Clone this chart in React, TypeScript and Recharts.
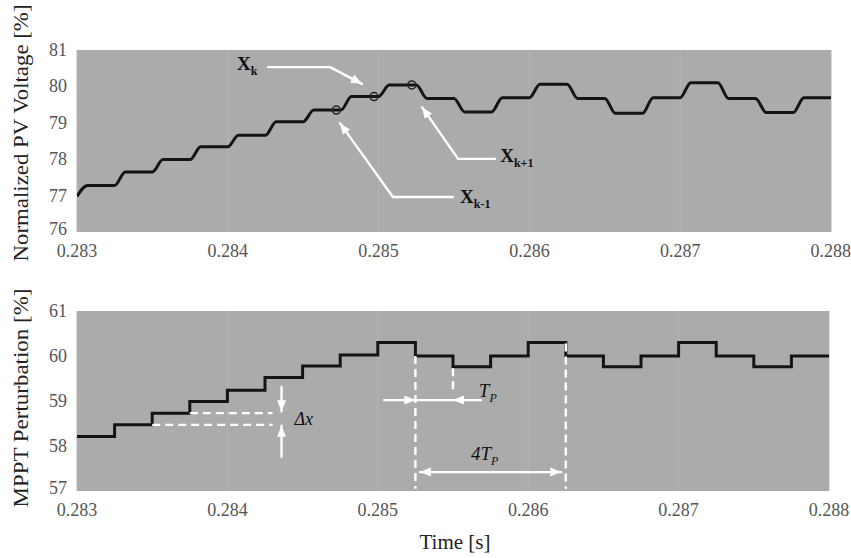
import React from "react";
import { ComposedChart, Line, XAxis, YAxis, CartesianGrid, ReferenceLine, ReferenceDot } from "recharts";

const xTicks = [0.283, 0.284, 0.285, 0.286, 0.287, 0.288];
const pvTicks = [76, 77, 78, 79, 80, 81];
const mpptTicks = [57, 58, 59, 60, 61];

// start of each perturbation period (T_P = 0.25 ms)
const periodStarts = [
  0.283, 0.28325, 0.2835, 0.28375, 0.284, 0.28425, 0.2845, 0.28475, 0.285, 0.28525,
  0.2855, 0.28575, 0.286, 0.28625, 0.2865, 0.28675, 0.287, 0.28725, 0.2875, 0.28775,
];
const tEnd = 0.288;

const mpptLevels = [
  58.21, 58.47, 58.73, 58.99, 59.24, 59.52, 59.78, 60.02, 60.3, 60.0,
  59.76, 60.0, 60.3, 60.0, 59.76, 60.0, 60.3, 60.0, 59.76, 60.0,
];
const pvLevels = [
  77.28, 77.65, 77.99, 78.34, 78.66, 79.03, 79.35, 79.72, 80.04, 79.67,
  79.3, 79.69, 80.06, 79.67, 79.26, 79.69, 80.1, 79.67, 79.28, 79.69,
];
const pvStart = 76.98;
const pvSettle = 0.00007; // time the voltage takes to follow a step

// sampled points x(k-1), x(k), x(k+1)
const sampleTimes = [0.28472, 0.28497, 0.28522];
const sampleValues = [79.35, 79.72, 80.04];

const FONT = "'Liberation Serif', 'DejaVu Serif', serif";

const pvData: { t: number; v: number }[] = [{ t: periodStarts[0], v: pvStart }];
periodStarts.forEach((t0, i) => {
  const t1 = i + 1 < periodStarts.length ? periodStarts[i + 1] : tEnd;
  pvData.push({ t: t0 + pvSettle, v: pvLevels[i] });
  pvData.push({ t: t1, v: pvLevels[i] });
});

const mpptData = periodStarts.map((t, i) => ({ t, v: mpptLevels[i] }));
mpptData.push({ t: tEnd, v: mpptLevels[mpptLevels.length - 1] });

const sampleData = sampleTimes.map((t, i) => ({ t, v: sampleValues[i] }));

// white annotation line, optional arrow heads
const arrow = (heads: "none" | "end" | "both", dashed = false) => (p: any) => {
  const { x1, y1, x2, y2 } = p;
  const head = (x: number, y: number, a: number) => {
    const L = 11, W = 4.5;
    const bx = x - L * Math.cos(a), by = y - L * Math.sin(a);
    return (
      <polygon
        points={`${x},${y} ${bx + W * Math.sin(a)},${by - W * Math.cos(a)} ${bx - W * Math.sin(a)},${by + W * Math.cos(a)}`}
        fill="#fff"
      />
    );
  };
  const a = Math.atan2(y2 - y1, x2 - x1);
  return (
    <g>
      <line x1={x1} y1={y1} x2={x2} y2={y2} stroke="#fff" strokeWidth={2.4}
        strokeDasharray={dashed ? "8 5" : undefined} strokeLinecap={dashed ? "butt" : "round"} />
      {heads !== "none" && head(x2, y2, a)}
      {heads === "both" && head(x1, y1, a + Math.PI)}
    </g>
  );
};

const subLabel = (main: string, sub: string, italic: boolean) => (p: any) => (
  <text x={p.cx} y={p.cy} fontFamily={FONT} fontSize={19} fill="#111"
    fontWeight={italic ? 400 : 700} fontStyle={italic ? "italic" : "normal"}>
    {main}
    <tspan fontSize={12} dy={5}>{sub}</tspan>
  </text>
);

const plainLabel = (txt: string) => (p: any) => (
  <text x={p.cx} y={p.cy} fontFamily={FONT} fontSize={18} fill="#111" fontStyle="italic">{txt}</text>
);

const yTitle = (text: string, len: number, shift: number) => (props: any) => {
  const vb = props.viewBox || { y: 0, height: 0 };
  const cx = 20;
  const cy = vb.y + vb.height / 2 + shift;
  return (
    <text x={cx} y={cy} transform={`rotate(-90, ${cx}, ${cy})`} textAnchor="middle"
      dominantBaseline="central" fontFamily={FONT} fontSize={22} fill="#222"
      textLength={len} lengthAdjust="spacingAndGlyphs">
      {text}
    </text>
  );
};

const xTitle = (props: any) => {
  const vb = props.viewBox || { x: 0, y: 0, width: 0 };
  return (
    <text x={vb.x + vb.width / 2 + 2} y={vb.y + 51} textAnchor="middle" dominantBaseline="central"
      fontFamily={FONT} fontSize={21} fill="#222">
      Time [s]
    </text>
  );
};

const tickStyle = { fontSize: 18, fill: "#555", fontFamily: FONT };

// y tick: lowest label sits a little above the axis bottom, as in the source figure
const yTick = (lowest: number) => (p: any) => (
  <text x={p.x} y={p.y} dy={p.payload.value === lowest ? -3 : 0} textAnchor="end"
    dominantBaseline="central" fontSize={18} fill="#555" fontFamily={FONT}>
    {p.payload.value}
  </text>
);

export default function App() {
  return (
    <div style={{ position: "absolute", left: 0, top: 0, width: 851, height: 558, background: "#fff", fontFamily: FONT }}>
      <div style={{ position: "absolute", left: 0, top: 0 }}>
        <ComposedChart width={851} height={280} data={pvData} margin={{ top: 50, right: 20, bottom: 0, left: 0 }}>
          <CartesianGrid fill="#ababab" stroke="#b6b6b6" horizontal={false} />
          <XAxis dataKey="t" type="number" domain={[0.283, 0.288]} ticks={xTicks}
            tickFormatter={(v) => v.toFixed(3)} tick={tickStyle} axisLine={false} tickLine={false}
            tickMargin={6} height={48} allowDataOverflow />
          <YAxis dataKey="v" type="number" domain={[76, 81]} ticks={pvTicks} tick={yTick(76)}
            axisLine={false} tickLine={false} width={77} tickMargin={4} allowDataOverflow
            label={{ content: yTitle("Normalized PV Voltage [%]", 257, -8) }} />
          <Line dataKey="v" type="monotone" stroke="#141414" strokeWidth={3} dot={false} isAnimationActive={false} />
          <Line data={sampleData} dataKey="v" stroke="none" isAnimationActive={false}
            dot={{ r: 4, fill: "none", stroke: "#222", strokeWidth: 1.5 }} />

          {/* x(k) */}
          <ReferenceLine segment={[{ x: 0.284267, y: 80.53 }, { x: 0.284678, y: 80.53 }]} shape={arrow("none")} />
          <ReferenceLine segment={[{ x: 0.284678, y: 80.53 }, { x: 0.28489, y: 80.07 }]} shape={arrow("end")} />
          <ReferenceDot x={0.284061} y={80.45} r={0} shape={subLabel("X", "k", false)} />
          {/* x(k+1) */}
          <ReferenceLine segment={[{ x: 0.285772, y: 78.01 }, { x: 0.285527, y: 78.01 }]} shape={arrow("none")} />
          <ReferenceLine segment={[{ x: 0.285527, y: 78.01 }, { x: 0.285288, y: 79.43 }]} shape={arrow("end")} />
          <ReferenceDot x={0.285806} y={77.92} r={0} shape={subLabel("X", "k+1", false)} />
          {/* x(k-1) */}
          <ReferenceLine segment={[{ x: 0.285493, y: 76.96 }, { x: 0.285095, y: 76.96 }]} shape={arrow("none")} />
          <ReferenceLine segment={[{ x: 0.285095, y: 76.96 }, { x: 0.284744, y: 78.99 }]} shape={arrow("end")} />
          <ReferenceDot x={0.28554} y={76.8} r={0} shape={subLabel("X", "k-1", false)} />
        </ComposedChart>
      </div>

      <div style={{ position: "absolute", left: 0, top: 280 }}>
        <ComposedChart width={851} height={278} data={mpptData} margin={{ top: 31, right: 22, bottom: 0, left: 0 }}>
          <CartesianGrid fill="#ababab" stroke="#b6b6b6" horizontal={false} />
          <XAxis dataKey="t" type="number" domain={[0.283, 0.288]} ticks={xTicks}
            tickFormatter={(v) => v.toFixed(3)} tick={tickStyle} axisLine={false} tickLine={false}
            tickMargin={6} height={67} allowDataOverflow label={{ content: xTitle }} />
          <YAxis dataKey="v" type="number" domain={[57, 61]} ticks={mpptTicks} tick={yTick(57)}
            axisLine={false} tickLine={false} width={77} tickMargin={4} allowDataOverflow
            label={{ content: yTitle("MPPT Perturbation [%]", 219, -3) }} />
          <Line dataKey="v" type="stepAfter" stroke="#141414" strokeWidth={3} dot={false} isAnimationActive={false} />

          {/* delta x */}
          <ReferenceLine segment={[{ x: 0.2835, y: 58.47 }, { x: 0.2843, y: 58.47 }]} shape={arrow("none", true)} />
          <ReferenceLine segment={[{ x: 0.28375, y: 58.73 }, { x: 0.2843, y: 58.73 }]} shape={arrow("none", true)} />
          <ReferenceLine segment={[{ x: 0.28436, y: 59.31 }, { x: 0.28436, y: 58.77 }]} shape={arrow("end")} />
          <ReferenceLine segment={[{ x: 0.28436, y: 57.76 }, { x: 0.28436, y: 58.45 }]} shape={arrow("end")} />
          <ReferenceDot x={0.284446} y={58.47} r={0} shape={plainLabel("Δx")} />

          {/* T_P and 4T_P */}
          <ReferenceLine segment={[{ x: 0.28525, y: 60.0 }, { x: 0.28525, y: 57.05 }]} shape={arrow("none", true)} />
          <ReferenceLine segment={[{ x: 0.2855, y: 59.73 }, { x: 0.2855, y: 59.24 }]} shape={arrow("none", true)} />
          <ReferenceLine segment={[{ x: 0.28625, y: 60.28 }, { x: 0.28625, y: 57.05 }]} shape={arrow("none", true)} />
          <ReferenceLine segment={[{ x: 0.285042, y: 59.02 }, { x: 0.28525, y: 59.02 }]} shape={arrow("end")} />
          <ReferenceLine segment={[{ x: 0.28525, y: 59.02 }, { x: 0.2855, y: 59.02 }]} shape={arrow("none")} />
          <ReferenceLine segment={[{ x: 0.285686, y: 59.02 }, { x: 0.2855, y: 59.02 }]} shape={arrow("end")} />
          <ReferenceDot x={0.285672} y={59.09} r={0} shape={subLabel("T", "P", true)} />
          <ReferenceLine segment={[{ x: 0.28528, y: 57.42 }, { x: 0.28622, y: 57.42 }]} shape={arrow("both")} />
          <ReferenceDot x={0.285619} y={57.69} r={0} shape={subLabel("4T", "P", true)} />
        </ComposedChart>
      </div>
    </div>
  );
}
